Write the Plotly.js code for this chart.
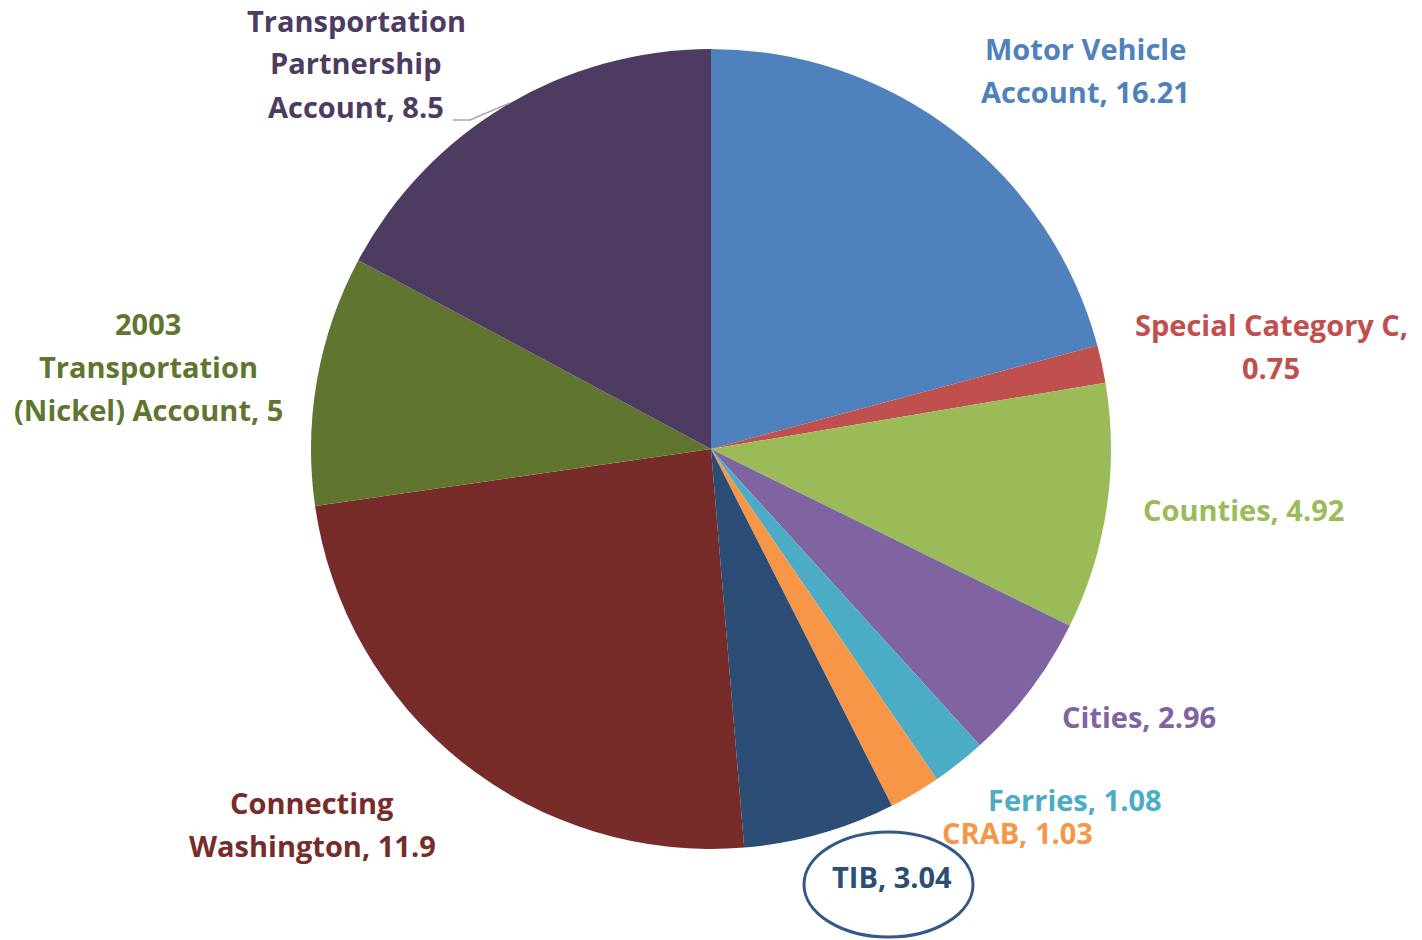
<!DOCTYPE html>
<html>
<head>
<meta charset="utf-8">
<script src="https://cdn.plot.ly/plotly-3.0.1.min.js"></script>
<style>
  html, body { margin: 0; padding: 0; background: #fff; }
  #chart { width: 1422px; height: 940px; }
</style>
</head>
<body>
<div id="chart"></div>
<script>
// Slices, in drawing order (clockwise from 12 o'clock)
const accounts = [
    'Motor Vehicle Account', 'Special Category C', 'Counties', 'Cities', 'Ferries',
    'CRAB', 'TIB', 'Connecting Washington', '2003 Transportation (Nickel) Account',
    'Transportation Partnership Account'
];
// Slice sizes as drawn. The Motor Vehicle slice in the picture only spans ~75 deg,
// i.e. ~10.3 on the same scale as the rest, even though its label reads 16.21.
const amounts = [10.31, 0.75, 4.92, 2.96, 1.08, 1.03, 3.04, 11.9, 5, 8.5];

// Label text as it wraps in the picture
const labelLines = [
    ['Motor Vehicle', 'Account, 16.21'],
    ['Special Category C,', '0.75'],
    ['Counties, 4.92'],
    ['Cities, 2.96'],
    ['Ferries, 1.08'],
    ['CRAB, 1.03'],
    ['TIB, 3.04'],
    ['Connecting', 'Washington, 11.9'],
    ['2003', 'Transportation', '(Nickel) Account, 5'],
    ['Transportation', 'Partnership', 'Account, 8.5']
];

const sliceColors = [
    '#4F81BD', '#C0504D', '#9BBB59', '#8064A2', '#4BACC6',
    '#F79646', '#2C4D75', '#772C2A', '#5F7530', '#4D3B62'
];

// Label centres in pixels (layout only)
const labelPos = [
    [1085, 70], [1271, 346], [1243, 509], [1139, 716], [1075, 799],
    [1017, 832], [892, 876], [312, 824], [148, 366], [356, 63]
];

const W = 1422, H = 940, LINE = 43;
const px = x => x / W;
const py = y => 1 - y / H;

const annotations = [];
labelLines.forEach((lines, i) => {
    const [cx, cy] = labelPos[i];
    lines.forEach((t, j) => {
        const y = cy + (j - (lines.length - 1) / 2) * LINE;
        annotations.push({
            text: t,
            xref: 'paper', yref: 'paper',
            x: px(cx), y: py(y),
            xanchor: 'center', yanchor: 'middle',
            showarrow: false,
            font: { family: '"Open Sans", sans-serif', size: 29, weight: 'bold', color: sliceColors[i] }
        });
    });
});

const trace = {
    type: 'pie',
    labels: accounts,
    values: amounts,
    sort: false,
    direction: 'clockwise',
    rotation: 0,
    textinfo: 'none',
    hoverinfo: 'label+value',
    marker: { colors: sliceColors, line: { width: 0 } },
    domain: { x: [px(311), px(1111)], y: [py(849), py(49)] },
    showlegend: false
};

const layout = {
    width: W,
    height: H,
    margin: { l: 0, r: 0, t: 0, b: 0 },
    paper_bgcolor: '#ffffff',
    showlegend: false,
    annotations: annotations,
    shapes: [
        // leader line for Transportation Partnership Account
        {
            type: 'path', xref: 'paper', yref: 'paper',
            path: `M ${px(453)} ${py(120)} L ${px(470)} ${py(120)} L ${px(510)} ${py(103)}`,
            line: { color: '#A6A6A6', width: 1.5 }
        },
        // ellipse round TIB
        {
            type: 'circle', xref: 'paper', yref: 'paper',
            x0: px(804), x1: px(973), y0: py(937), y1: py(832),
            line: { color: '#345888', width: 3 }
        }
    ]
};

Plotly.newPlot('chart', [trace], layout, { displayModeBar: false });
</script>
</body>
</html>
